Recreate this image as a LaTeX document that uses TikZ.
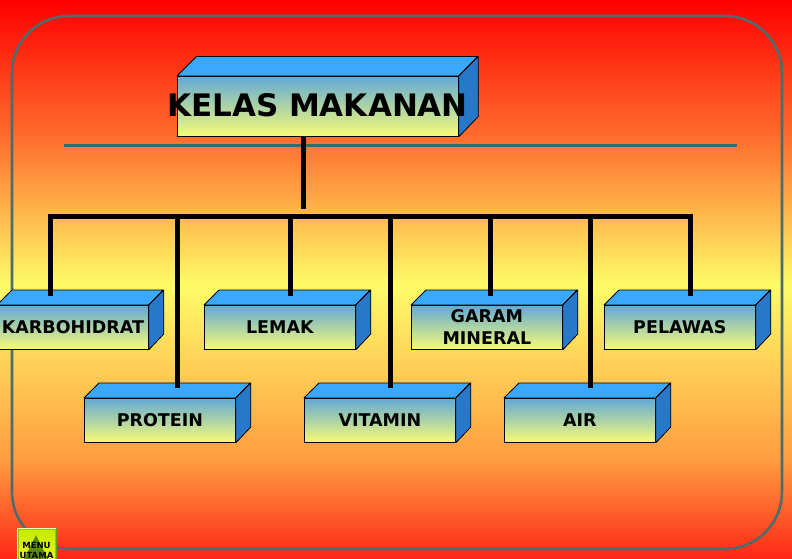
\documentclass[tikz,border=0pt]{standalone}
\usepackage{fontspec}
\setmainfont{DejaVu Sans}
\usetikzlibrary{calc}
\definecolor{bgtop}{RGB}{255,0,0}
\definecolor{bg2}{RGB}{255,112,46}
\definecolor{bgmid}{RGB}{255,252,104}
\definecolor{bg4}{RGB}{255,156,64}
\definecolor{bgbot}{RGB}{255,38,22}
\definecolor{topc}{RGB}{58,168,255}
\definecolor{sidec}{RGB}{40,120,202}
\definecolor{frtop}{RGB}{98,170,214}
\definecolor{frbot}{RGB}{248,252,118}
\definecolor{framec}{RGB}{78,108,108}
\definecolor{hlinec}{RGB}{56,106,110}
\definecolor{btnout}{RGB}{150,200,0}
\definecolor{btnin}{RGB}{196,236,0}
\definecolor{btnlo}{RGB}{236,250,40}
\definecolor{btntri}{RGB}{90,140,0}
\pgfdeclareverticalshading{bgshade}{100bp}{color(0bp)=(bgbot); color(25bp)=(bgbot); color(33.85bp)=(bg4); color(49.5bp)=(bgmid); color(62.48bp)=(bg2); color(75bp)=(bgtop); color(100bp)=(bgtop)}
\tikzset{
  frontface/.style={draw=black, line width=0.8pt, top color=frtop, bottom color=frbot, inner sep=0pt, anchor=north west},
  topface/.style={draw=black, line width=0.8pt, fill=topc, line join=round},
  sideface/.style={draw=black, line width=0.8pt, fill=sidec, line join=round},
  lbl/.style={font=\fontsize{17.5}{22}\selectfont\bfseries, align=center, inner sep=0pt, text=black},
  conn/.style={draw=black, line width=5pt, line cap=butt},
}
\newcommand\mkbox[7]{%
  \node[frontface, minimum width=#4pt, minimum height=#5pt] (#1) at (#2,#3) {};
  \filldraw[topface] (#1.north west) -- ++(#6,-#6) -- ++(#4,0) -- (#1.north east) -- cycle;
  \filldraw[sideface] (#1.north east) -- ++(#6,-#6) -- ++(0,#5) -- (#1.south east) -- cycle;
  \node[lbl] (#1-t) at (#1.center) {#7};
}
\begin{document}
\begin{tikzpicture}[x=1pt,y=-1pt]
\useasboundingbox (0,0) rectangle (792,559);
\shade[shading=bgshade] (0,0) rectangle (792,559);
\draw[framec, line width=2.6pt, rounded corners=57pt] (12,16) rectangle (782,549);
\coordinate (hl1) at (64,145.5);
\coordinate (hl2) at (737,145.5);
\draw[hlinec, line width=3.4pt] (hl1) -- (hl2);
% title
\node[frontface, minimum width=281pt, minimum height=60pt] (title) at (177,76) {};
\filldraw[topface] (title.north west) -- ++(19.5,-19.5) -- ++(281,0) -- (title.north east) -- cycle;
\filldraw[sideface] (title.north east) -- ++(19.5,-19.5) -- ++(0,60) -- (title.south east) -- cycle;
\node[font=\fontsize{31}{36}\selectfont\bfseries, inner sep=0pt] (title-t) at (317.5,105) {KELAS MAKANAN};
\coordinate (t1) at (303,209);
\draw[conn] (title.south -| t1) -- (t1);
% bus
\coordinate (busL) at (48,216.5);
\coordinate (busR) at (692.7,216.5);
\draw[conn] (busL) -- (busR);
% boxes
\mkbox{kb}{-3}{305}{151}{44}{15}{KARBOHIDRAT}
\mkbox{lm}{204}{305}{151}{44}{15}{LEMAK}
\mkbox{gm}{411}{305}{151}{44}{15}{GARAM\\MINERAL}
\mkbox{pl}{604}{305}{151}{44}{15}{PELAWAS}
\mkbox{pr}{84}{398}{151}{44}{15}{PROTEIN}
\mkbox{vt}{304}{398}{151}{44}{15}{VITAMIN}
\mkbox{ai}{504}{398}{151}{44}{15}{AIR}
% drops
\foreach \n/\x/\y in {1/50.5/296, 2/177/388, 3/290/296, 4/390/388, 5/490/296, 6/590/388, 7/690.2/296}{
  \coordinate (j\n) at (\x,214.5);
  \coordinate (e\n) at (\x,\y);
  \draw[conn] (j\n) -- (e\n);
}
% menu button
\fill[btnout] (17,528) rectangle (57,565);
\shade[top color=btnin, bottom color=btnlo] (19.5,530.5) rectangle (54.5,565);
\draw[white!70!btnin, line width=0.8pt] (17.4,565) -- (17.4,528.4) -- (56.6,528.4);
\draw[btntri!70!btnout, line width=1pt] (56.5,528.4) -- (56.5,565);
\fill[btntri] (36,535) -- (48,559) -- (24,559) -- cycle;
\node[font=\fontsize{8.5}{10.5}\selectfont\bfseries, align=center, inner sep=0pt] (menu-t) at (36.5,550.5) {MENU\\UTAMA};
\end{tikzpicture}
\end{document}
